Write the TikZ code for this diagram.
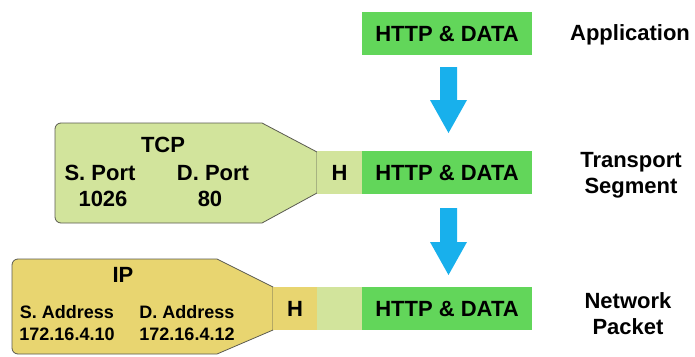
\documentclass[tikz,border=0pt]{standalone}
\usepackage{fontspec}
\setmainfont{Liberation Sans}
\definecolor{datagreen}{HTML}{62D65A}
\definecolor{tcpgreen}{HTML}{D2E49C}
\definecolor{ipyellow}{HTML}{E8D570}
\definecolor{flowblue}{HTML}{18B0EC}
\definecolor{edgegray}{HTML}{5A5A50}
\begin{document}
\begin{tikzpicture}[x=1pt,y=-1pt,
  big/.style={font=\bfseries\fontsize{22}{26}\selectfont},
  small/.style={font=\bfseries\fontsize{18}{21}\selectfont},
  cell/.style={big,inner sep=0pt,outer sep=0pt,minimum height=43pt},
  datacell/.style={cell,fill=datagreen,minimum width=170pt},
  hcell/.style={cell,minimum width=45pt},
  hdr/.style={draw=edgegray,line width=0.8pt},
  flow/.style={fill=flowblue},
  layer/.style={big,anchor=base,align=center}]
\useasboundingbox (0,0) rectangle (695,356);

% Application layer
\node[datacell] (app) at (447,33.5) {HTTP \& DATA};
\node[layer] (applbl) at (630,40) {Application};

% Transport segment: header tag, rounded only on its left side
\path[hdr,fill=tcpgreen]
  (317,152) -- (262,123) -- (61,123) arc[start angle=-90,end angle=-180,radius=6]
  -- (55,217) arc[start angle=180,end angle=90,radius=6]
  -- (262,223) -- (317,193) -- cycle;
\node[datacell] (segdata) at (447,172.5) {HTTP \& DATA};
\node[hcell,fill=tcpgreen,anchor=east] (segh) at (segdata.west) {H};
\node[big,anchor=base] (tcp) at (163,152) {TCP};
\node[big,anchor=base] (sport) at (100,180.5) {S. Port};
\node[big,anchor=base] (dport) at (213,180.5) {D. Port};
\node[big,anchor=base] (sportv) at (103,206) {1026};
\node[big,anchor=base] (dportv) at (210,206) {80};
\node[layer] (seglbl1) at (631,167) {Transport};
\node[layer] (seglbl2) at (631,193) {Segment};

% Network packet
\path[hdr,fill=ipyellow]
  (273,287) -- (217,259) -- (18,259) arc[start angle=-90,end angle=-180,radius=6]
  -- (12,348) arc[start angle=180,end angle=90,radius=6]
  -- (217,354) -- (273,330) -- cycle;
\node[datacell] (pktdata) at (447,308.5) {HTTP \& DATA};
\node[hcell,fill=tcpgreen,anchor=east] (pktseg) at (pktdata.west) {};
\node[cell,minimum width=44pt,fill=ipyellow,anchor=east] (pkth) at (pktseg.west) {H};
\node[big,anchor=base] (ip) at (123,282.5) {IP};
\node[small,anchor=base] (saddr) at (67,318.5) {S. Address};
\node[small,anchor=base] (daddr) at (187,318.5) {D. Address};
\node[small,anchor=base] (saddrv) at (67,340) {172.16.4.10};
\node[small,anchor=base] (daddrv) at (187,340) {172.16.4.12};
\node[layer] (pktlbl1) at (628,308) {Network};
\node[layer] (pktlbl2) at (628,334) {Packet};

% Encapsulation arrows
\fill[flow] (440,67) -- (457,67) -- (457,100) -- (467,100) -- (448.5,133)
  -- (430,100) -- (440,100) -- cycle;
\fill[flow] (440,208) -- (457,208) -- (457,242) -- (467,242) -- (448.5,275)
  -- (430,242) -- (440,242) -- cycle;
\end{tikzpicture}
\end{document}
